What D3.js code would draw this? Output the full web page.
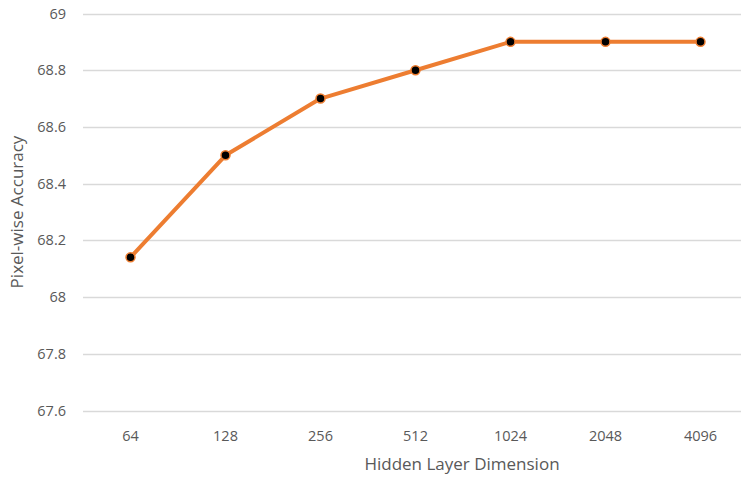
<!DOCTYPE html>
<html><head><meta charset="utf-8">
<script src="https://cdn.jsdelivr.net/npm/d3@7"></script>
<style>body{margin:0;background:#fff}svg{display:block}text{font-family:"Open Sans","Liberation Sans",sans-serif;fill:#595959}</style>
</head><body>
<svg id="c" width="741" height="484"></svg>
<script>
const categories = ["64","128","256","512","1024","2048","4096"];
const values = [68.14, 68.5, 68.7, 68.8, 68.9, 68.9, 68.9];
const yTicks = [67.6, 67.8, 68, 68.2, 68.4, 68.6, 68.8, 69];

const svg = d3.select("#c");
const L = 83, R = 748, T = 13.5, B = 410.5;
const x = d3.scaleBand().domain(categories).range([L, R]);
const y = d3.scaleLinear().domain([67.6, 69]).range([B, T]);

svg.append("g").selectAll("line").data(yTicks).join("line")
  .attr("x1", L).attr("x2", R)
  .attr("y1", d => Math.round(y(d)) + 0.5).attr("y2", d => Math.round(y(d)) + 0.5)
  .attr("stroke", "#d9d9d9").attr("stroke-width", 1.5);

svg.append("g").selectAll("text").data(yTicks).join("text")
  .attr("x", 66).attr("y", d => y(d)).attr("dy", "0.35em")
  .attr("text-anchor", "end").attr("font-size", 14.5)
  .text(d => d3.format("~g")(d));

svg.append("g").selectAll("text").data(categories).join("text")
  .attr("x", d => x(d) + x.bandwidth() / 2).attr("y", 436).attr("dy", "0.35em")
  .attr("text-anchor", "middle").attr("font-size", 14.5)
  .text(d => d);

const cx = (d, i) => x(categories[i]) + x.bandwidth() / 2;
svg.append("path").datum(values)
  .attr("fill", "none").attr("stroke", "#ED7D31").attr("stroke-width", 4)
  .attr("stroke-linejoin", "round")
  .attr("d", d3.line().x(cx).y(d => y(d)));

svg.append("g").selectAll("circle").data(values).join("circle")
  .attr("cx", cx).attr("cy", d => y(d)).attr("r", 4.5)
  .attr("fill", "#000").attr("stroke", "#ED7D31").attr("stroke-width", 1.5);

svg.append("text").attr("x", 462).attr("y", 464).attr("dy", "0.35em")
  .attr("text-anchor", "middle").attr("font-size", 17)
  .text("Hidden Layer Dimension");

svg.append("text").attr("transform", `translate(17,${(T + B) / 2}) rotate(-90)`)
  .attr("dy", "0.35em").attr("text-anchor", "middle").attr("font-size", 17)
  .text("Pixel-wise Accuracy");
</script>
</body></html>
